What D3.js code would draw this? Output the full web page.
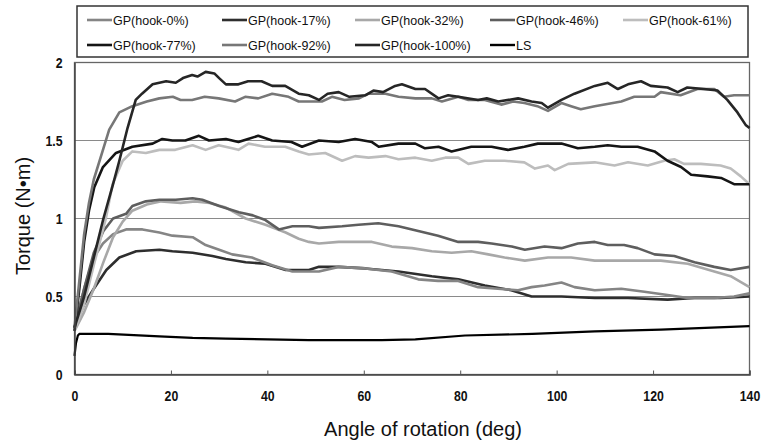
<!DOCTYPE html>
<html><head><meta charset="utf-8">
<script src="https://cdn.jsdelivr.net/npm/d3@7"></script>
<style>
html,body{margin:0;padding:0;background:#fff;}
svg{display:block;}
.tick-lab{font-family:"Liberation Sans","Arial",sans-serif;font-weight:bold;font-size:15px;fill:#111;}
.leg{font-family:"Liberation Sans","Arial",sans-serif;font-size:12.5px;fill:#111;}
.ttl{font-family:"Liberation Sans","Arial",sans-serif;font-size:20px;fill:#111;}
</style></head>
<body>
<script>
// ---- data ----
const seriesNames = ["GP(hook-0%)","GP(hook-17%)","GP(hook-32%)","GP(hook-46%)","GP(hook-61%)","GP(hook-77%)","GP(hook-92%)","GP(hook-100%)","LS"];
const xTicks = [0,20,40,60,80,100,120,140];
const yTicks = [0,0.5,1,1.5,2];
const yTickLabels = ["0","0.5","1","1.5","2"];

const hook0 = [[0,0.3],[2,0.55],[4,0.75],[5.9,0.84],[8,0.9],[10.7,0.93],[14.1,0.93],[17.6,0.91],[20.3,0.89],[24.5,0.88],[27.2,0.83],[30,0.80],[32.7,0.77],[36.8,0.75],[41,0.70],[45.2,0.66],[48.6,0.66],[50.7,0.66],[54.8,0.69],[60.3,0.68],[65.8,0.66],[71.3,0.61],[75.4,0.60],[79.6,0.60],[83.7,0.56],[87.8,0.55],[92,0.54],[94.8,0.56],[97.5,0.57],[101,0.59],[103.7,0.56],[107.9,0.54],[113.4,0.55],[118.2,0.53],[123,0.51],[127.2,0.49],[132.7,0.49],[136.8,0.50],[140,0.52]];
const hook17 = [[0,0.3],[2,0.45],[3.8,0.54],[6.6,0.67],[9.3,0.75],[12.8,0.79],[17.6,0.80],[20.3,0.79],[24.5,0.78],[28.6,0.76],[31.4,0.74],[35.5,0.72],[39.6,0.71],[43.8,0.67],[48.6,0.67],[50.7,0.69],[54.8,0.69],[60.3,0.68],[67.2,0.66],[74.1,0.63],[79.6,0.61],[85.1,0.57],[90.6,0.54],[94.8,0.50],[101,0.50],[107.9,0.49],[114.8,0.49],[123,0.48],[128.6,0.49],[134,0.49],[140,0.50]];
const hook32 = [[0,0.28],[2,0.4],[4,0.55],[6,0.72],[8,0.88],[10,0.98],[12,1.05],[15,1.09],[18,1.11],[22,1.1],[25,1.11],[28,1.1],[31.4,1.07],[35.5,1.0],[39.6,0.96],[43.8,0.91],[46.5,0.87],[48.6,0.85],[50.7,0.84],[54.8,0.85],[61.7,0.85],[65.8,0.82],[70,0.81],[74.1,0.79],[78.2,0.78],[82.3,0.79],[85.8,0.77],[89.2,0.75],[93.4,0.73],[98.2,0.75],[103,0.75],[107.9,0.73],[112,0.73],[116.8,0.73],[121.6,0.73],[127.2,0.71],[132.7,0.66],[136.1,0.63],[140,0.56]];
const hook46 = [[0,0.3],[2,0.55],[4,0.78],[6,0.92],[8,1.0],[10.7,1.03],[12,1.08],[14.8,1.11],[17.6,1.12],[21,1.12],[24.5,1.13],[26.5,1.12],[30,1.08],[34.1,1.04],[37,1.02],[39.6,0.99],[42.4,0.93],[45.2,0.95],[48.6,0.95],[50.7,0.94],[55.5,0.95],[58.9,0.96],[63,0.97],[67.2,0.95],[71.3,0.92],[75.4,0.89],[79.6,0.85],[83.7,0.85],[86.5,0.84],[90.7,0.82],[93.4,0.80],[97.5,0.82],[101,0.81],[104.4,0.84],[107.9,0.85],[110.6,0.83],[114,0.83],[116.8,0.81],[120.3,0.77],[124.4,0.76],[128.6,0.72],[132.7,0.69],[136.1,0.67],[140,0.69]];
const hook61 = [[0,0.28],[2,0.45],[4,0.7],[6.5,1.0],[7.9,1.22],[10,1.37],[12,1.43],[14.8,1.42],[17.6,1.44],[20.9,1.44],[24.5,1.47],[27.2,1.44],[29.9,1.47],[32.7,1.45],[34,1.44],[36.1,1.48],[39.5,1.46],[43.7,1.46],[46.5,1.43],[48.6,1.41],[52,1.42],[55.5,1.37],[58.2,1.40],[61,1.39],[64.5,1.40],[67.2,1.38],[70.7,1.39],[74.1,1.37],[76.9,1.39],[79.6,1.39],[81.7,1.35],[85.1,1.37],[89.2,1.37],[93.3,1.36],[95.5,1.32],[98.2,1.34],[99.6,1.31],[102.4,1.35],[107.9,1.36],[112,1.34],[114.8,1.36],[118.9,1.34],[122.3,1.37],[124.4,1.38],[126.4,1.35],[129.9,1.35],[134,1.34],[136.1,1.32],[138.2,1.27],[140,1.22]];
const hook77 = [[0,0.28],[1,0.55],[2,0.85],[3,1.05],[4.1,1.2],[5.9,1.33],[8.6,1.42],[12,1.46],[16.2,1.48],[18.2,1.51],[20.3,1.5],[23,1.5],[25.8,1.53],[27.9,1.5],[31.4,1.51],[34,1.49],[36,1.51],[38.1,1.53],[41,1.5],[45,1.49],[47.2,1.46],[50.7,1.5],[54.8,1.49],[58.2,1.51],[61.7,1.49],[63.1,1.46],[67.2,1.48],[70.7,1.48],[72.7,1.45],[75.5,1.46],[78.2,1.43],[82.3,1.46],[86.5,1.46],[89.9,1.44],[93.3,1.46],[96.1,1.48],[101,1.48],[104.4,1.45],[107.9,1.46],[110.6,1.47],[113.4,1.46],[116.8,1.46],[120.3,1.43],[123,1.37],[125.8,1.33],[127.9,1.28],[131.3,1.27],[134.1,1.26],[136.8,1.22],[140,1.22]];
const hook92 = [[0,0.3],[1,0.6],[2,0.9],[3,1.1],[4,1.25],[6,1.45],[7.2,1.57],[9.3,1.68],[12,1.72],[15,1.75],[17.6,1.77],[20.4,1.78],[22,1.76],[24.4,1.76],[27,1.78],[29.9,1.77],[33.3,1.75],[35.4,1.78],[38.1,1.77],[41,1.80],[44.4,1.78],[46.5,1.75],[51.3,1.75],[53.4,1.78],[56,1.76],[59,1.77],[61,1.8],[64.5,1.8],[67.2,1.78],[70.7,1.77],[74.1,1.77],[76.2,1.75],[79.6,1.78],[81.7,1.76],[85.1,1.76],[88.5,1.73],[91,1.75],[93.3,1.74],[96,1.72],[98.2,1.69],[101,1.74],[103,1.72],[105,1.70],[107.9,1.72],[113.4,1.75],[116.1,1.78],[120.3,1.78],[121.6,1.81],[125.7,1.79],[129.2,1.83],[132.7,1.83],[134.7,1.78],[136.8,1.79],[140,1.79]];
const hook100 = [[0,0.3],[2,0.5],[4,0.75],[6,1.0],[8,1.22],[9.3,1.37],[11,1.58],[12.7,1.76],[14,1.8],[16.2,1.86],[19,1.88],[21,1.87],[22.5,1.9],[24.4,1.92],[25.5,1.91],[27.2,1.94],[29,1.93],[30,1.9],[31.4,1.86],[34,1.86],[36,1.88],[38.8,1.88],[41,1.85],[43.7,1.85],[46.5,1.80],[48.6,1.79],[50.7,1.76],[52.5,1.8],[54.8,1.81],[57,1.78],[60.3,1.79],[62,1.82],[64,1.81],[66.5,1.85],[67.9,1.86],[70.7,1.83],[72.7,1.83],[75.5,1.77],[77.5,1.79],[79.6,1.78],[83.7,1.76],[85.5,1.77],[87.9,1.75],[92,1.77],[94.8,1.75],[96.9,1.74],[98.2,1.71],[101,1.76],[103.7,1.80],[107.9,1.85],[110.6,1.87],[112.7,1.83],[114.8,1.86],[117.5,1.88],[119.5,1.85],[123,1.84],[125.1,1.81],[127.1,1.84],[130.5,1.83],[133.4,1.82],[135.4,1.76],[137.5,1.68],[139.2,1.60],[140,1.58]];
const ls = [[0,0.12],[0.3,0.2],[0.7,0.25],[1,0.26],[7,0.26],[17.6,0.245],[24.5,0.235],[31.4,0.23],[48.6,0.22],[63.7,0.22],[70.7,0.225],[81,0.25],[95,0.26],[107.9,0.277],[121.6,0.288],[140,0.31]];

const seriesData = [hook0,hook17,hook32,hook46,hook61,hook77,hook92,hook100,ls];
const seriesColors = ["#858585","#2e2e2e","#a8a8a8","#5e5e5e","#bdbdbd","#151515","#777777","#262626","#000000"];

// ---- layout ----
const W=766,H=442;
const svg=d3.select("body").append("svg").attr("width",W).attr("height",H);
const x=d3.scaleLinear().domain([0,140]).range([74.5,749.5]);
const y=d3.scaleLinear().domain([0,2]).range([374.5,62.5]);

// gridlines
svg.append("g").selectAll("line").data(yTicks.filter(v=>v>0&&v<2)).join("line")
  .attr("x1",x(0)).attr("x2",x(140)).attr("y1",d=>y(d)).attr("y2",d=>y(d))
  .attr("stroke","#8a8a8a").attr("stroke-width",1.2);

// frame
svg.append("rect").attr("x",x(0)).attr("y",y(2)).attr("width",x(140)-x(0)).attr("height",y(0)-y(2))
  .attr("fill","none").attr("stroke","#666").attr("stroke-width",1.3);

// lines
const line=d3.line().x(d=>x(d[0])).y(d=>y(d[1]));
const drawOrder=[8,1,0,2,3,4,5,6,7];
svg.append("g").selectAll("path").data(drawOrder).join("path")
  .attr("d",i=>line(seriesData[i])).attr("fill","none")
  .attr("stroke",i=>seriesColors[i]).attr("stroke-width",i=>i===8?2.2:2.6)
  .attr("stroke-linejoin","round");

// axes
const xAxis=d3.axisBottom(x).tickValues(xTicks).tickSize(-4).tickPadding(13).tickFormat(d3.format("d"));
const gx=svg.append("g").attr("transform",`translate(0,${y(0)})`).call(xAxis);
gx.select(".domain").attr("stroke","#444").attr("stroke-width",1.5);
gx.selectAll(".tick line").attr("stroke","#555");
gx.selectAll(".tick text").attr("class","tick-lab").attr("dy","0.9em")
  .attr("transform",function(){ return `translate(0,${this.getAttribute("y")}) scale(0.82,1) translate(0,${-this.getAttribute("y")})`; });

const yAxis=d3.axisLeft(y).tickValues(yTicks).tickSize(0).tickPadding(12).tickFormat((d,i)=>yTickLabels[i]);
const gy=svg.append("g").attr("transform",`translate(${x(0)},0)`).call(yAxis);
gy.select(".domain").attr("stroke","#444").attr("stroke-width",1.5);
gy.selectAll(".tick text").attr("class","tick-lab")
  .attr("x",null).attr("transform","translate(-12,0) scale(0.82,1)");

// axis titles
svg.append("text").attr("class","ttl").attr("x",423).attr("y",436).attr("text-anchor","middle").text("Angle of rotation (deg)");
svg.append("text").attr("class","ttl").attr("transform","translate(30,216) rotate(-90)").attr("text-anchor","middle").text("Torque (N•m)");

// legend
svg.append("rect").attr("x",77).attr("y",6).attr("width",671).attr("height",51)
  .attr("fill","#fff").attr("stroke","#333").attr("stroke-width",1.5);
const colX=[87,222,355,490,623], rowY=[20,45];
const lg=svg.append("g").selectAll("g").data(seriesNames).join("g")
  .attr("transform",(d,i)=>`translate(${colX[i%5]},${rowY[Math.floor(i/5)]})`);
lg.append("line").attr("x1",0).attr("x2",25).attr("y1",0).attr("y2",0)
  .attr("stroke",(d,i)=>seriesColors[i]).attr("stroke-width",(d,i)=>i===8?2.4:2.6);
lg.append("text").attr("class","leg").attr("x",26).attr("y",0).attr("dy","0.36em").text(d=>d);
</script>
</body></html>
